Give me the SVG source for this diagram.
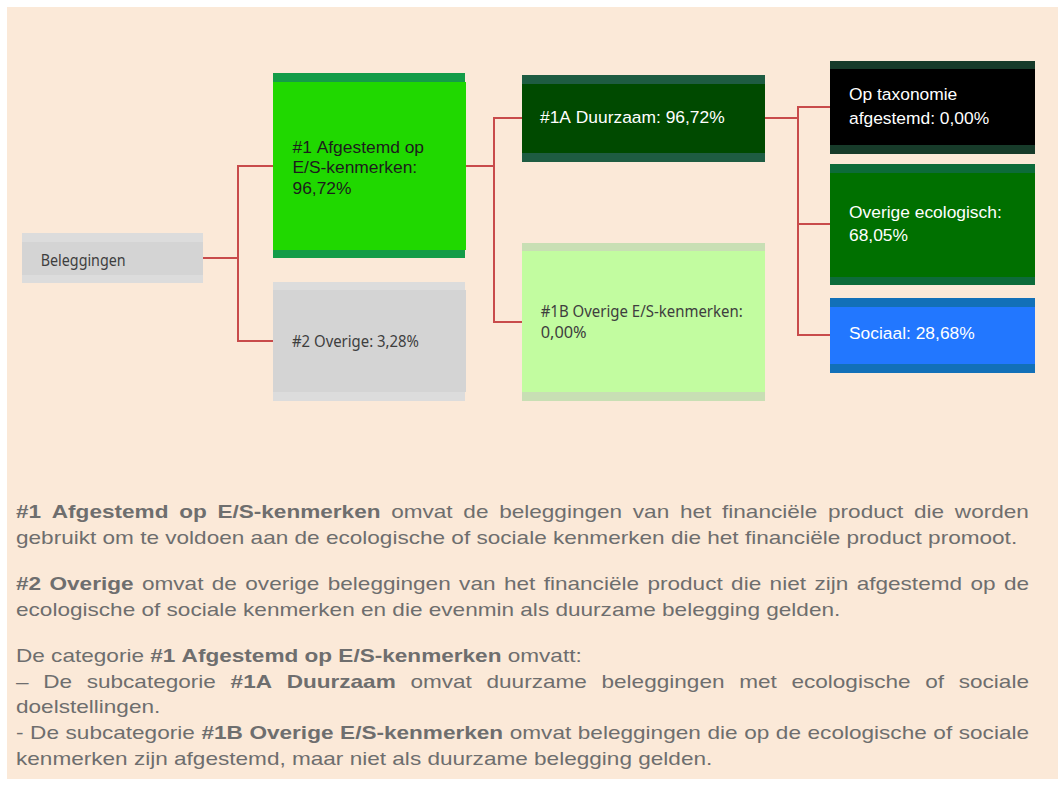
<svg xmlns="http://www.w3.org/2000/svg" width="1060" height="788" viewBox="0 0 1060 788">
<style>
.ar{font-family:"Liberation Sans",Arial,sans-serif;font-size:17.4px;font-kerning:none}
.hu{font-family:"Noto Sans","Open Sans",sans-serif;font-size:17px;fill:#3e3e3e}
.dk{fill:#1c1c1c}
.wt{fill:#ffffff}
.con{fill:none;stroke:#c84b4b;stroke-width:2}
.para{font-family:"Liberation Sans",Arial,sans-serif;font-size:19px;fill:#6e6e6e;font-kerning:none}
.b{font-weight:bold}
</style>
<rect x="0" y="0" width="1060" height="788" fill="#ffffff"/>
<rect x="7" y="7" width="1051" height="772" fill="#fbe9d8"/>
<g id="connectors">
<path class="con" d="M203,258 H238"/>
<path class="con" d="M273,166 H238 V341 H273"/>
<path class="con" d="M466,166 H494"/>
<path class="con" d="M522,118 H494 V322 H522"/>
<path class="con" d="M765,118 H798"/>
<path class="con" d="M830,107 H798 V335 H830"/>
<path class="con" d="M798,224 H830"/>
</g>
<g id="beleggingen">
<rect x="22" y="233" width="181" height="50" fill="#dcdcdc"/>
<rect x="22" y="242" width="181" height="33" fill="#d4d4d4"/>
<text class="hu" x="40.7" y="266" textLength="85" lengthAdjust="spacingAndGlyphs">Beleggingen</text>
</g>
<g id="n1">
<rect x="273" y="73" width="192" height="185" fill="#149c48"/>
<rect x="273" y="82" width="193" height="168" fill="#20d800"/>
<text class="ar dk" x="292.5"><tspan x="292.5" y="152.7">#1 Afgestemd op</tspan><tspan x="292.5" y="173.3">E/S-kenmerken:</tspan><tspan x="292.5" y="193.8">96,72%</tspan></text>
</g>
<g id="n2">
<rect x="273" y="282" width="192" height="119" fill="#dcdcdc"/>
<rect x="273" y="290" width="193" height="102" fill="#d4d4d4"/>
<text class="hu" x="292" y="346.5" textLength="127" lengthAdjust="spacingAndGlyphs">#2 Overige: 3,28%</text>
</g>
<g id="n1a">
<rect x="522" y="75" width="243" height="87" fill="#1e5c42"/>
<rect x="522" y="84" width="243" height="69" fill="#004a00"/>
<text class="ar wt" x="540" y="122.7">#1A Duurzaam: 96,72%</text>
</g>
<g id="n1b">
<rect x="522" y="243" width="243" height="158" fill="#c8dfb4"/>
<rect x="522" y="251" width="243" height="141" fill="#c2fca0"/>
<text class="hu" x="540.7" y="316.5" textLength="202" lengthAdjust="spacingAndGlyphs">#1B Overige E/S-kenmerken:</text>
<text class="hu" x="540.7" y="338" textLength="46" lengthAdjust="spacingAndGlyphs">0,00%</text>
</g>
<g id="taxonomie">
<rect x="830" y="61" width="205" height="93" fill="#173b2a"/>
<rect x="830" y="69" width="205" height="76" fill="#000000"/>
<text class="ar wt"><tspan x="849" y="100">Op taxonomie</tspan><tspan x="849" y="124">afgestemd: 0,00%</tspan></text>
</g>
<g id="ecologisch">
<rect x="830" y="164" width="205" height="121" fill="#0d6b3a"/>
<rect x="830" y="173" width="205" height="104" fill="#007000"/>
<text class="ar wt"><tspan x="849" y="217.7">Overige ecologisch:</tspan><tspan x="849" y="240.7">68,05%</tspan></text>
</g>
<g id="sociaal">
<rect x="830" y="298" width="205" height="75" fill="#1270b8"/>
<rect x="830" y="307" width="205" height="57" fill="#2277ff"/>
<text class="ar wt" x="849" y="339.3">Sociaal: 28,68%</text>
</g>
<g id="uitleg" transform="translate(16,0) scale(1.188,1)">
<text class="para" x="0" y="518.5" word-spacing="3.73"><tspan class="b">#1 Afgestemd op E/S-kenmerken</tspan> omvat de beleggingen van het financiële product die worden</text>
<text class="para" x="0" y="544">gebruikt om te voldoen aan de ecologische of sociale kenmerken die het financiële product promoot.</text>
<text class="para" x="0" y="590.3" word-spacing="1.79"><tspan class="b">#2 Overige</tspan> omvat de overige beleggingen van het financiële product die niet zijn afgestemd op de</text>
<text class="para" x="0" y="615.9">ecologische of sociale kenmerken en die evenmin als duurzame belegging gelden.</text>
<text class="para" x="0" y="662.2">De categorie <tspan class="b">#1 Afgestemd op E/S-kenmerken</tspan> omvatt:</text>
<text class="para" x="0" y="687.8" word-spacing="7.05">– De subcategorie <tspan class="b">#1A Duurzaam</tspan> omvat duurzame beleggingen met ecologische of sociale</text>
<text class="para" x="0" y="713.4">doelstellingen.</text>
<text class="para" x="0" y="739" word-spacing="0.28">- De subcategorie <tspan class="b">#1B Overige E/S-kenmerken</tspan> omvat beleggingen die op de ecologische of sociale</text>
<text class="para" x="0" y="764.6">kenmerken zijn afgestemd, maar niet als duurzame belegging gelden.</text>
</g>
</svg>
